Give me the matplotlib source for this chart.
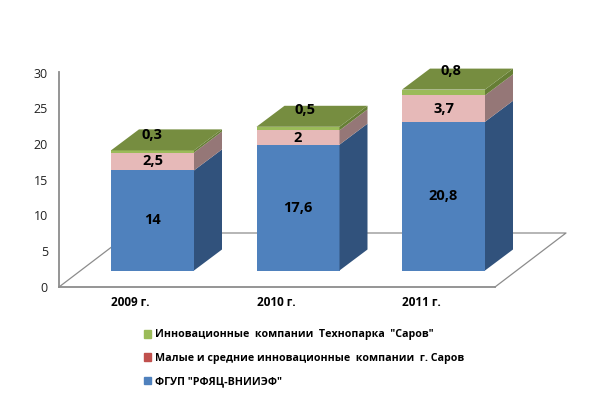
import numpy as np
import matplotlib
matplotlib.use('Agg')
import matplotlib.pyplot as plt
from matplotlib.patches import Polygon, Patch

plt.rcParams['font.family'] = ['Open Sans', 'DejaVu Sans']

years = ['2009 г.', '2010 г.', '2011 г.']
fgup = [14, 17.6, 20.8]
small = [2.5, 2, 3.7]
technopark = [0.3, 0.5, 0.8]
fgup_labels = ['14', '17,6', '20,8']
small_labels = ['2,5', '2', '3,7']
technopark_labels = ['0,3', '0,5', '0,8']
legend_names = ['Инновационные  компании  Технопарка  "Саров"',
                'Малые и средние инновационные  компании  г. Саров',
                'ФГУП "РФЯЦ-ВНИИЭФ"']

# px sizes, turned into axis units
px_x = 1 / 145.5
px_y = 30 / 214.5
w = 83 * px_x
dx = 28 * px_x
dy = 21 * px_y
base = 16.5 * px_y
top_shift = [0, 7, 7]

fig = plt.figure(figsize=(6.06, 4.01), dpi=100)
ax = fig.add_axes([59 / 606, 1 - 287 / 401, 436 / 606, 214.5 / 401])
ax.set_xlim(-93.5 * px_x, 342.5 * px_x)
ax.set_ylim(0, 30)
x = np.arange(len(years))

# floor of the 3d box
grey = '#8c8c8c'
x0, x1 = ax.get_xlim()
fx = 71 * px_x
fy = 54 * px_y
ax.plot([x0, x0 + fx, x1 + fx, x1], [0, fy, fy, 0], color=grey, lw=0.9, clip_on=False, zorder=1)

fronts = ['#4f81bd', '#e6b9b8', '#9bbb59']
sides = ['#31527c', '#957777', '#667e35']
bottom = np.full(len(x), base)
for vals, c, s in zip([fgup, small, technopark], fronts, sides):
    vals = np.array(vals)
    ax.bar(x, vals, w, bottom=bottom, color=c, zorder=3)
    for i in x:
        r = x[i] + w / 2
        b = bottom[i]
        t = b + vals[i]
        ax.add_patch(Polygon([(r, b), (r + dx, b + dy), (r + dx, t + dy), (r, t)],
                             closed=True, fc=s, ec='none', zorder=3, clip_on=False))
    bottom = bottom + vals

# top face
for i in x:
    l = x[i] - w / 2
    t = bottom[i]
    ax.add_patch(Polygon([(l, t), (l + w, t), (l + w + dx, t + dy), (l + dx, t + dy)],
                         closed=True, fc='#768d40', ec='none', zorder=3, clip_on=False))

# value labels
bold = dict(ha='center', va='center', fontsize=10.5, fontweight='bold', color='black', zorder=5)
for i in x:
    ax.text(x[i], base + fgup[i] / 2, fgup_labels[i], **bold)
    ax.text(x[i], base + fgup[i] + small[i] / 2, small_labels[i], **bold)
    ax.text(x[i] + top_shift[i] * px_x, bottom[i] + technopark[i] + 13 * px_y,
            technopark_labels[i], **bold)

for sp in ['top', 'right']:
    ax.spines[sp].set_visible(False)
for sp in ['left', 'bottom']:
    ax.spines[sp].set_color(grey)
    ax.spines[sp].set_linewidth(1.3)

ax.set_yticks(range(0, 31, 5))
ax.tick_params(axis='y', length=0, pad=8, labelsize=9, labelcolor='#222222')
ax.set_xticks(x - 22 * px_x)
ax.set_xticklabels(years, fontsize=8.5, fontweight='bold')
ax.tick_params(axis='x', length=0, pad=6.5)

handles = [Patch(color='#9bbb59'), Patch(color='#c0504d'), Patch(color='#4f81bd')]
fig.legend(handles, legend_names, loc='upper left', bbox_to_anchor=(143.5 / 606, 1 - 329.5 / 401),
           frameon=False, prop={'weight': 'bold', 'size': 7.7}, handlelength=0.7, handleheight=0.7,
           handletextpad=0.35, labelspacing=1.16, borderpad=0, borderaxespad=0)

fig.savefig('out.png', dpi=100)
